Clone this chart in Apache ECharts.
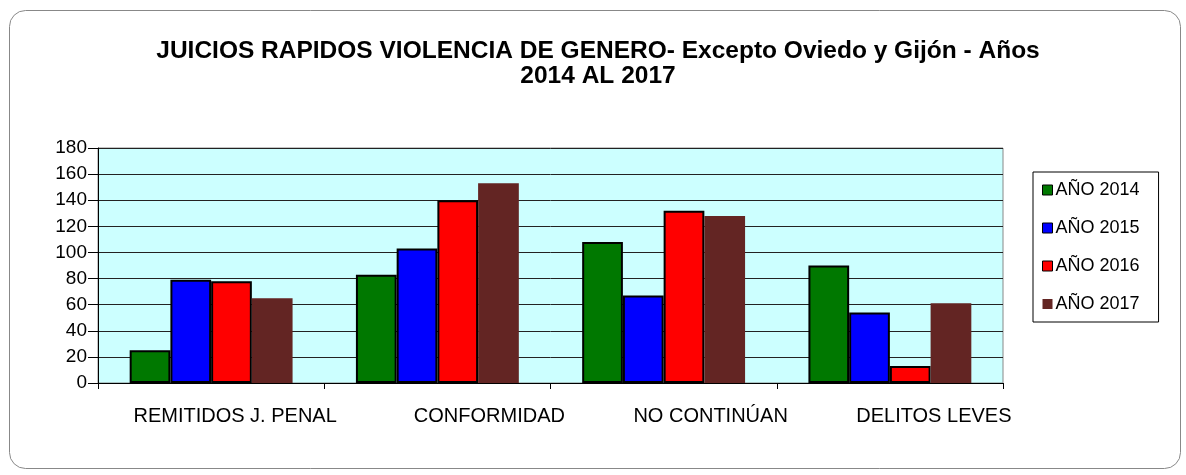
<!DOCTYPE html>
<html>
<head>
<meta charset="utf-8">
<script src="https://cdn.jsdelivr.net/npm/echarts@6/dist/echarts.min.js"></script>
<style>
  html, body { margin: 0; padding: 0; background: #fff; }
  #chart { width: 1186px; height: 475px; }
</style>
</head>
<body>
<div id="chart"></div>
<script>
// categorias y valores por año
const categorias = ['REMITIDOS J. PENAL', 'CONFORMIDAD', 'NO CONTINÚAN', 'DELITOS LEVES'];
const anio2014 = [25, 83, 108, 90];
const anio2015 = [79, 103, 67, 54];
const anio2016 = [78, 140, 132, 13];
const anio2017 = [65, 153, 128, 61];
const nombres = ['AÑO 2014', 'AÑO 2015', 'AÑO 2016', 'AÑO 2017'];
const colores = ['#007800', '#0000ff', '#ff0000', '#632523'];

const fuente = '"Liberation Sans", Arial, sans-serif';
// desplazamiento a la derecha de las etiquetas del eje x (como en el original)
const desplazaEtiqueta = [24, 52, 47, 44];

let chartDom = document.getElementById('chart');
let myChart = echarts.init(chartDom);

function serie(i, data) {
  // la serie 2017 no tiene borde negro
  let conBorde = i < 3;
  return {
    name: nombres[i],
    type: 'bar',
    data: data,
    barGap: '0%',
    barCategoryGap: '28%',
    itemStyle: {
      color: colores[i],
      borderColor: conBorde ? '#000' : colores[i],
      borderWidth: conBorde ? 2 : 0
    }
  };
}

let option = {
  animation: false,
  textStyle: { fontFamily: fuente },
  graphic: [{
    type: 'rect',
    left: 7, top: 8,
    shape: { width: 1171, height: 458, r: 16 },
    style: { fill: 'none', stroke: '#888', lineWidth: 1 },
    silent: true
  }],
  title: {
    text: 'JUICIOS RAPIDOS VIOLENCIA DE GENERO- Excepto Oviedo y Gijón - Años\n2014 AL 2017',
    left: 593,
    textAlign: 'center',
    top: 34,
    textStyle: {
      fontFamily: fuente,
      fontSize: 24.5,
      fontWeight: 'bold',
      color: '#000',
      lineHeight: 25
    }
  },
  legend: {
    orient: 'vertical',
    left: 1033,
    top: 172,
    padding: [9, 19, 9, 9],
    itemGap: 20,
    itemWidth: 10,
    itemHeight: 10,
    borderColor: '#000',
    borderWidth: 1,
    icon: 'rect',
    textStyle: { fontFamily: fuente, fontSize: 18, color: '#000', padding: [0, 0, 0, -2] },
    data: nombres.map((n, i) => ({
      name: n,
      itemStyle: {
        color: colores[i],
        borderColor: i < 3 ? '#000' : colores[i],
        borderWidth: i < 3 ? 1 : 0
      }
    }))
  },
  grid: {
    left: 98,
    right: 1186 - 1003,
    top: 148,
    bottom: 475 - 383,
    show: true,
    backgroundColor: '#ccffff',
    borderColor: '#888',
    borderWidth: 1,
    containLabel: false
  },
  xAxis: {
    type: 'category',
    data: categorias.map((c, i) => ({
      value: c,
      textStyle: { padding: [0, 0, 0, desplazaEtiqueta[i] * 2] }
    })),
    axisLine: { lineStyle: { color: '#000', width: 1 } },
    axisTick: { show: true, interval: 0, length: 6, lineStyle: { color: '#000' } },
    axisLabel: {
      interval: 0,
      margin: 23,
      fontSize: 20,
      color: '#000',
      fontFamily: fuente
    }
  },
  yAxis: {
    type: 'value',
    min: 0,
    max: 180,
    interval: 20,
    axisLine: { show: true, lineStyle: { color: '#000', width: 1 } },
    axisTick: { show: true, length: 10, lineStyle: { color: '#000' } },
    axisLabel: { fontSize: 19, color: '#000', margin: 11, fontFamily: fuente },
    splitLine: { show: true, lineStyle: { color: '#222', width: 1 } }
  },
  series: [
    serie(0, anio2014),
    serie(1, anio2015),
    serie(2, anio2016),
    serie(3, anio2017)
  ]
};

option && myChart.setOption(option);
</script>
</body>
</html>
